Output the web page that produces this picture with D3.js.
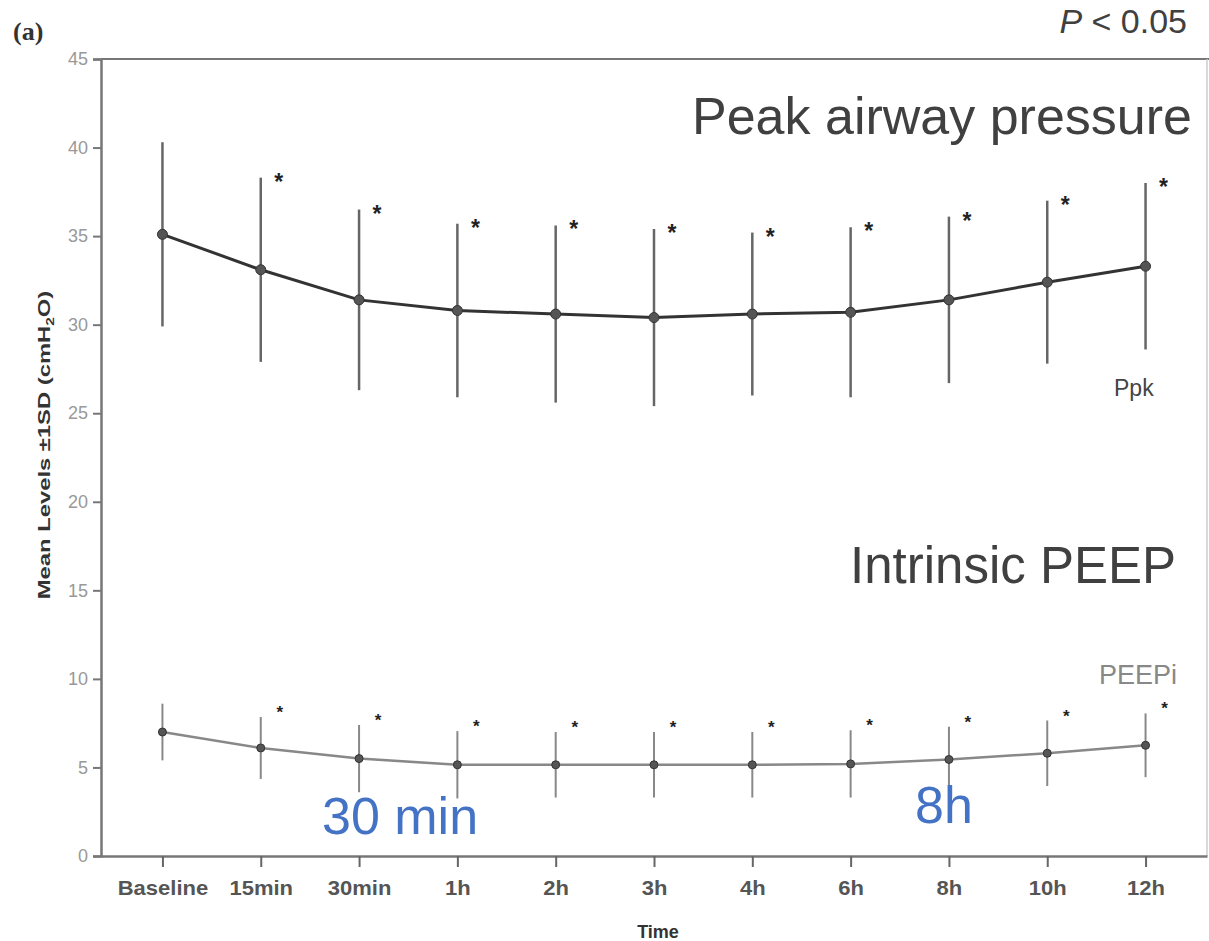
<!DOCTYPE html>
<html>
<head>
<meta charset="utf-8">
<script src="https://cdn.jsdelivr.net/npm/d3@7"></script>
<style>
body{margin:0;background:#fff}
text{font-family:"Liberation Sans",Arial,sans-serif}
</style>
</head>
<body>
<svg id="chart" width="1209" height="941"></svg>
<script>
var times = ["Baseline","15min","30min","1h","2h","3h","4h","6h","8h","10h","12h"];
var ppkMean = [35.1,33.1,31.4,30.8,30.6,30.4,30.6,30.7,31.4,32.4,33.3];
var ppkSD = [5.2,5.2,5.1,4.9,5.0,5.0,4.6,4.8,4.7,4.6,4.7];
var peepMean = [7.0,6.1,5.5,5.15,5.15,5.15,5.15,5.2,5.45,5.8,6.25];
var peepSD = [1.6,1.75,1.9,1.9,1.85,1.85,1.85,1.9,1.85,1.85,1.8];
var signif = [false,true,true,true,true,true,true,true,true,true,true];
var yTicks = [0,5,10,15,20,25,30,35,40,45];

window.addEventListener("load", makeChart);

function makeChart(){
	var svg = d3.select("#chart");
	var left = 101, right = 1207, top = 59, bottom = 856;

	var x = d3.scalePoint().domain(times).range([left,right]).padding(0.625);
	var y = d3.scaleLinear().domain([0,45]).range([bottom,top]);

	// frame
	svg.append("line").attr("x1",left).attr("x2",1209).attr("y1",top).attr("y2",top)
	.attr("stroke","#777").attr("stroke-width",2);
	svg.append("line").attr("x1",right).attr("x2",right).attr("y1",top).attr("y2",bottom)
	.attr("stroke","#ccc").attr("stroke-width",1.5);

	// axes
	var ya = svg.append("g").attr("transform","translate("+left+",0)")
	.call(d3.axisLeft(y).tickValues(yTicks).tickSize(8).tickPadding(5));
	ya.select(".domain").attr("stroke","#777").attr("stroke-width",2.5);
	ya.selectAll(".tick line").attr("stroke","#777").attr("stroke-width",2);
	ya.selectAll("text").attr("font-size",18).attr("fill","#999");

	var xa = svg.append("g").attr("transform","translate(0,"+bottom+")")
	.call(d3.axisBottom(x).tickSize(11).tickPadding(14).tickSizeOuter(0));
	xa.select(".domain").attr("stroke","#777").attr("stroke-width",2.5);
	xa.selectAll(".tick line").attr("stroke","#666").attr("stroke-width",2);
	xa.selectAll("text").attr("font-size",20).attr("font-weight","bold").attr("fill","#555")
	.attr("transform","scale(1.1,1)");

	svg.append("text").text("Time").attr("x",658).attr("y",938)
	.attr("text-anchor","middle").attr("font-size",18).attr("font-weight","bold").attr("fill","#333");

	var yl = svg.append("text").attr("transform","translate(50,445) rotate(-90) scale(1.4,1)")
	.attr("text-anchor","middle").attr("font-size",17).attr("font-weight","bold").attr("fill","#333");
	yl.append("tspan").text("Mean Levels \u00b11SD (cmH");
	yl.append("tspan").text("2").attr("font-size",11).attr("dy",4);
	yl.append("tspan").text("O)").attr("dy",-4);

	svg.append("text").text("(a)").attr("x",13).attr("y",40)
	.style("font-family","'Liberation Serif',serif").attr("font-size",26)
	.attr("font-weight","bold").attr("fill","#333");

	drawSeries(svg,x,y,ppkMean,ppkSD,{line:"#333",lw:3,bar:"#666",bw:2.5,dot:"#555",r:5,star:23,sdx:18,sdy:12});
	drawSeries(svg,x,y,peepMean,peepSD,{line:"#888",lw:2.5,bar:"#888",bw:2,dot:"#555",r:4,star:17,sdx:19,sdy:1});

	// series labels
	svg.append("text").text("Ppk").attr("x",1114).attr("y",396)
	.attr("font-size",23).attr("fill","#444");
	svg.append("text").text("PEEPi").attr("x",1099).attr("y",684)
	.attr("font-size",27).attr("fill","#888");

	// annotations
	var note = svg.append("text").attr("x",1187).attr("y",33).attr("text-anchor","end")
	.attr("font-size",34).attr("fill","#404040");
	note.append("tspan").text("P").attr("font-style","italic");
	note.append("tspan").text(" < 0.05");

	svg.append("text").text("Peak airway pressure").attr("x",692).attr("y",134)
	.attr("font-size",52).attr("fill","#404040");
	svg.append("text").text("Intrinsic PEEP").attr("x",850).attr("y",583)
	.attr("font-size",51).attr("fill","#404040");
	svg.append("text").text("30 min").attr("x",322).attr("y",834)
	.attr("font-size",52).attr("fill","#4472C4");
	svg.append("text").text("8h").attr("x",915).attr("y",823)
	.attr("font-size",52).attr("fill","#4472C4");
}

function drawSeries(svg,x,y,mean,sd,st){
	var pts = times.map((t,i)=>({t:t,m:mean[i],s:sd[i],sig:signif[i]}));
	var g = svg.append("g");

	g.selectAll("line.err").data(pts).enter()
	.append("line").attr("class","err")
	.attr("x1",d=>x(d.t)).attr("x2",d=>x(d.t))
	.attr("y1",d=>y(d.m-d.s)).attr("y2",d=>y(d.m+d.s))
	.attr("stroke",st.bar).attr("stroke-width",st.bw);

	var lnMkr = d3.line().x(d=>x(d.t)).y(d=>y(d.m));
	g.append("path").attr("d",lnMkr(pts))
	.attr("fill","none").attr("stroke",st.line).attr("stroke-width",st.lw);

	g.selectAll("circle").data(pts).enter()
	.append("circle").attr("r",st.r)
	.attr("cx",d=>x(d.t)).attr("cy",d=>y(d.m))
	.attr("fill",st.dot).attr("stroke","#333").attr("stroke-width",1);

	g.selectAll("text").data(pts.filter(d=>d.sig)).enter()
	.append("text").text("*")
	.attr("x",d=>x(d.t)+st.sdx).attr("y",d=>y(d.m+d.s)+st.sdy)
	.attr("text-anchor","middle").attr("font-size",st.star)
	.attr("font-weight","bold").attr("fill","#222");
}
</script>
</body>
</html>
